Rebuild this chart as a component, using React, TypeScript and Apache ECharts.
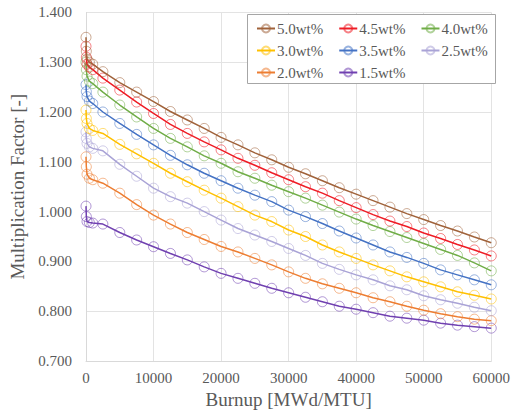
import React, { useEffect, useRef } from "react";
import * as echarts from "echarts";

const burnup = [0, 50, 150, 500, 1000, 2500, 5000, 7500, 10000, 12500, 15000, 17500, 20000, 22500, 25000, 27500, 30000, 32500, 35000, 37500, 40000, 42500, 45000, 47500, 50000, 52500, 55000, 57500, 60000];

const seriesNames = ["5.0wt%", "4.5wt%", "4.0wt%", "3.0wt%", "3.5wt%", "2.5wt%", "2.0wt%", "1.5wt%"];
const seriesColors = ["#a0623a", "#ee1c25", "#70ad47", "#ffc000", "#4472c4", "#a9a3d6", "#ed7d31", "#7040b0"];

const k50 = [1.350, 1.322, 1.306, 1.300, 1.296, 1.281, 1.259, 1.240, 1.221, 1.201, 1.184, 1.167, 1.149, 1.134, 1.118, 1.104, 1.089, 1.076, 1.062, 1.048, 1.035, 1.022, 1.009, 0.996, 0.984, 0.972, 0.961, 0.949, 0.9375];
const k45 = [1.332, 1.310, 1.296, 1.290, 1.285, 1.268, 1.244, 1.220, 1.197, 1.175, 1.157, 1.140, 1.124, 1.107, 1.093, 1.078, 1.064, 1.050, 1.037, 1.022, 1.008, 0.994, 0.981, 0.970, 0.957, 0.946, 0.934, 0.923, 0.911];
const k40 = [1.300, 1.285, 1.272, 1.262, 1.257, 1.240, 1.214, 1.190, 1.167, 1.147, 1.130, 1.112, 1.097, 1.080, 1.067, 1.053, 1.040, 1.027, 1.013, 0.999, 0.985, 0.972, 0.960, 0.948, 0.936, 0.924, 0.912, 0.897, 0.881];
const k30 = [1.204, 1.187, 1.177, 1.167, 1.163, 1.157, 1.135, 1.116, 1.097, 1.077, 1.060, 1.043, 1.027, 1.010, 0.993, 0.980, 0.963, 0.950, 0.933, 0.919, 0.906, 0.893, 0.881, 0.869, 0.859, 0.849, 0.839, 0.832, 0.8245];
const k35 = [1.255, 1.241, 1.231, 1.222, 1.217, 1.200, 1.177, 1.155, 1.134, 1.113, 1.094, 1.077, 1.062, 1.047, 1.033, 1.020, 1.003, 0.990, 0.976, 0.961, 0.947, 0.933, 0.919, 0.908, 0.896, 0.883, 0.873, 0.863, 0.853];
const k25 = [1.160, 1.147, 1.137, 1.130, 1.127, 1.122, 1.095, 1.071, 1.047, 1.030, 1.017, 1.000, 0.983, 0.966, 0.953, 0.940, 0.926, 0.912, 0.896, 0.884, 0.873, 0.863, 0.851, 0.843, 0.831, 0.823, 0.816, 0.808, 0.801];
const k20 = [1.110, 1.090, 1.075, 1.067, 1.064, 1.057, 1.037, 1.014, 0.993, 0.975, 0.958, 0.944, 0.930, 0.919, 0.906, 0.893, 0.879, 0.866, 0.855, 0.846, 0.837, 0.827, 0.819, 0.810, 0.802, 0.795, 0.789, 0.784, 0.781];
const k15 = [1.011, 0.990, 0.980, 0.978, 0.977, 0.975, 0.958, 0.943, 0.9295, 0.916, 0.903, 0.889, 0.876, 0.866, 0.856, 0.846, 0.837, 0.828, 0.819, 0.810, 0.804, 0.797, 0.790, 0.786, 0.782, 0.776, 0.772, 0.769, 0.766];

const seriesValues = [k50, k45, k40, k30, k35, k25, k20, k15];

const xTicks = { min: 0, max: 60000, interval: 10000 };
const yTicks = { min: 0.7, max: 1.4, interval: 0.1 };

const FONT = "'Liberation Serif', 'Times New Roman', serif";
const TEXT = "#595959";

function hexA(hex: string, a: number) {
  const n = parseInt(hex.slice(1), 16);
  return `rgba(${(n >> 16) & 255},${(n >> 8) & 255},${n & 255},${a})`;
}

export default function App() {
  const ref = useRef<HTMLDivElement>(null);
  useEffect(() => {
    if (!ref.current) return;
    const chart = echarts.init(ref.current, null, { renderer: "svg" });
    const rows = [seriesNames.slice(0, 3), seriesNames.slice(3, 6), seriesNames.slice(6)];
    const legends = rows.map((r, i) => ({
      data: r,
      left: 256,
      top: 21 + i * 22,
      orient: "horizontal",
      itemWidth: 18,
      itemHeight: 10,
      itemGap: 15,
      padding: 0,
      z: 10,
      textStyle: { fontFamily: FONT, fontSize: 15, color: TEXT, padding: [0, 0, 0, -3] },
    }));
    chart.setOption({
      animation: false,
      backgroundColor: "#fff",
      grid: { left: 86, right: 19, top: 12.4, bottom: 58 },
      legend: legends,
      graphic: [
        {
          type: "rect",
          left: 247,
          top: 14,
          shape: { width: 248, height: 69 },
          style: { fill: "#fff", stroke: "#a6a6a6", lineWidth: 1 },
          z: 1,
        },
      ],
      xAxis: {
        type: "value",
        min: xTicks.min,
        max: xTicks.max,
        interval: xTicks.interval,
        name: "Burnup [MWd/MTU]",
        nameLocation: "middle",
        nameGap: 27,
        nameTextStyle: { fontFamily: FONT, fontSize: 19, color: TEXT },
        axisLine: { show: true, lineStyle: { color: "#d9d9d9" } },
        axisTick: { show: false },
        axisLabel: { fontFamily: FONT, fontSize: 15, color: TEXT, margin: 9, formatter: (v: number) => String(v) },
        splitLine: { show: true, lineStyle: { color: "#e3e3e3" } },
      },
      yAxis: {
        type: "value",
        min: yTicks.min,
        max: yTicks.max,
        interval: yTicks.interval,
        name: "Multiplication Factor [-]",
        nameLocation: "middle",
        nameGap: 58,
        nameTextStyle: { fontFamily: FONT, fontSize: 19, color: TEXT },
        axisLine: { show: true, lineStyle: { color: "#d9d9d9" } },
        axisTick: { show: false },
        axisLabel: { fontFamily: FONT, fontSize: 15, color: TEXT, margin: 14, formatter: (v: number) => v.toFixed(3) },
        splitLine: { show: true, lineStyle: { color: "#e3e3e3" } },
      },
      series: seriesNames.map((name, i) => ({
        name,
        type: "line",
        data: burnup.map((b, j) => [b, seriesValues[i][j]]),
        symbol: "circle",
        symbolSize: 10,
        lineStyle: { color: seriesColors[i], width: 1.5 },
        itemStyle: { color: "rgba(255,255,255,0)", borderColor: hexA(seriesColors[i], 0.55), borderWidth: 1 },
        color: seriesColors[i],
        z: 2 + (8 - i),
      })),
    });
    return () => chart.dispose();
  }, []);
  return <div ref={ref} style={{ position: "absolute", left: 0, top: 0, width: 513, height: 419 }} />;
}
